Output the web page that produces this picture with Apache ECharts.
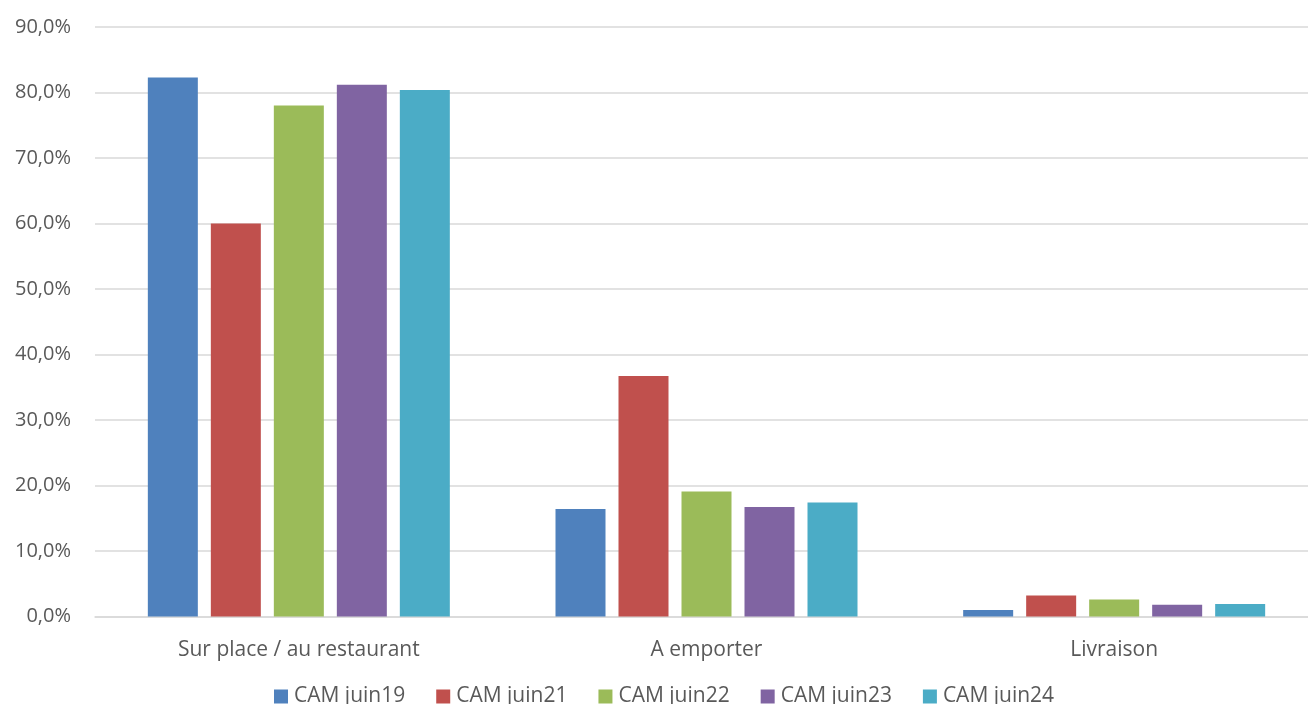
<!DOCTYPE html>
<html>
<head>
<meta charset="utf-8">
<script src="https://cdn.jsdelivr.net/npm/echarts@6/dist/echarts.min.js"></script>
<style>html,body{margin:0;padding:0;background:#fff;overflow:hidden;width:1308px;height:704px;}#c{width:1318px;height:704px;}</style>
</head>
<body>
<div id="c"></div>
<script>
const categories = ['Sur place / au restaurant', 'A emporter', 'Livraison'];
const seriesNames = ['CAM juin19', 'CAM juin21', 'CAM juin22', 'CAM juin23', 'CAM juin24'];
const juin19 = [82.3, 16.4, 1.0];
const juin21 = [60.0, 36.7, 3.2];
const juin22 = [78.0, 19.1, 2.6];
const juin23 = [81.2, 16.7, 1.8];
const juin24 = [80.4, 17.4, 1.9];
const yTicks = [0, 10, 20, 30, 40, 50, 60, 70, 80, 90];
const colors = ['#4F81BD', '#C0504D', '#9BBB59', '#8064A2', '#4BACC6'];
const allData = [juin19, juin21, juin22, juin23, juin24];
const font = '"Open Sans", "Liberation Sans", sans-serif';

const chart = echarts.init(document.getElementById('c'));
chart.setOption({
  animation: false,
  textStyle: { fontFamily: font },
  legend: {
    data: seriesNames,
    top: 681,
    left: 269,
    itemWidth: 14,
    itemHeight: 14,
    itemGap: 31,
    icon: 'rect',
    textStyle: { fontSize: 21, color: '#595959', fontFamily: font, padding: [0, 0, 0, 1] }
  },
  grid: { left: 95, top: 27, right: 0, bottom: 87.5, containLabel: false },
  xAxis: {
    type: 'category',
    data: categories,
    axisLine: { lineStyle: { color: '#D9D9D9', width: 1.5 } },
    axisTick: { show: false },
    axisLabel: { fontSize: 21, color: '#595959', margin: 23, fontFamily: font }
  },
  yAxis: {
    type: 'value',
    min: yTicks[0], max: yTicks[yTicks.length - 1], interval: yTicks[1] - yTicks[0],
    axisLine: { show: false },
    axisTick: { show: false },
    splitLine: { lineStyle: { color: '#D9D9D9', width: 1.5 } },
    axisLabel: {
      fontSize: 20, color: '#595959', margin: 24, fontFamily: font,
      formatter: v => v.toFixed(1).replace('.', ',') + '%'
    }
  },
  series: seriesNames.map((n, i) => ({
    name: n,
    type: 'bar',
    data: allData[i],
    barWidth: 50,
    barGap: '26%',
    itemStyle: { color: colors[i] }
  }))
});
</script>
</body>
</html>
